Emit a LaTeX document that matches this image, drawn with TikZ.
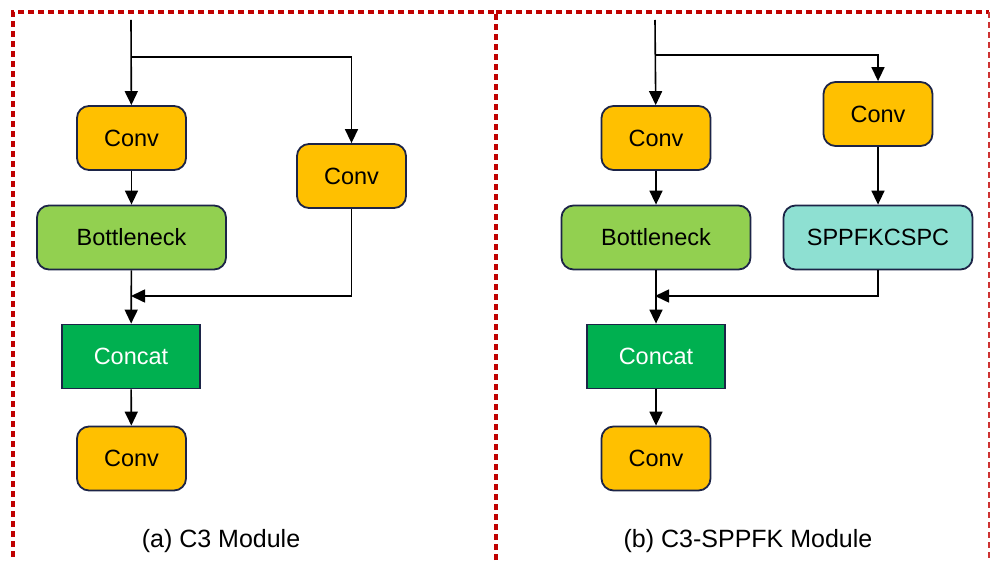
\documentclass[tikz,border=0pt]{standalone}
\usepackage{fontspec}
\setmainfont{Liberation Sans}
\usetikzlibrary{arrows,arrows.meta}

\definecolor{convcol}{HTML}{FFC000}
\definecolor{neckcol}{HTML}{92D050}
\definecolor{catcol}{HTML}{00B050}
\definecolor{sppfcol}{HTML}{8EE0D2}
\definecolor{edgecol}{HTML}{1C2447}
\definecolor{framecol}{HTML}{C00000}

\begin{document}
\begin{tikzpicture}[x=1pt,y=-1pt,->,>={Triangle[length=14pt,width=13pt]},line width=1.6pt,
  box/.style={draw=edgecol,line width=1.8pt,rounded corners=12pt,minimum height=64pt,
    inner sep=0pt,font=\fontsize{23.5}{27}\selectfont},
  conv node/.style={box,fill=convcol,minimum width=109pt},
  neck node/.style={box,fill=neckcol,minimum width=189pt},
  sppf node/.style={box,fill=sppfcol,minimum width=189pt},
  cat node/.style={box,fill=catcol,rounded corners=0pt,minimum width=138pt,text=white},
  frame/.style={-,draw=framecol,line width=3.5pt,dash pattern=on 6pt off 4pt},
  caption/.style={font=\fontsize{25}{30}\selectfont}]

  \clip (0,0) rectangle (990,561);

  % dashed panels
  \draw[frame] (496,580) -- (496,12) -- (13,12) -- (13,580);
  \draw[frame] (496,12) -- (989,12);
  \draw[frame,line width=1.8pt,draw=framecol!80] (989,12) -- (989,580);

  % (a) C3
  \node[conv node] (a1) at (131.5,138) {Conv};
  \node[neck node] (a2) at (131.5,237.5) {Bottleneck};
  \node[conv node] (a3) at (351.5,176) {Conv};
  \node[cat node]  (a4) at (131,356.5) {Concat};
  \node[conv node] (a5) at (131.5,458.5) {Conv};
  \coordinate (ain) at (131,20);
  \coordinate (asplit) at (131,57);
  \coordinate (ajoin) at (131,296);

  \draw (ain) -- (a1);
  \draw (asplit) -| (a3.north);
  \draw (a1) -- (a2);
  \draw (a3.south) |- (ajoin);
  \draw (a2) -- (a4);
  \draw (a4) -- (a5);

  % (b) C3-SPPFK
  \node[conv node] (b1) at (656,138) {Conv};
  \node[conv node] (b2) at (878,114) {Conv};
  \node[neck node] (b3) at (656,237.5) {Bottleneck};
  \node[sppf node] (b4) at (878,237.5) {SPPFKCSPC};
  \node[cat node]  (b5) at (656,356.5) {Concat};
  \node[conv node] (b6) at (656,458.5) {Conv};
  \coordinate (bin) at (655,20);
  \coordinate (bsplit) at (655,55);
  \coordinate (bjoin) at (655,296);

  \draw (bin) -- (b1);
  \draw (bsplit) -| (b2.north);
  \draw (b1) -- (b3);
  \draw (b2) -- (b4);
  \draw (b4.south) |- (bjoin);
  \draw (b3) -- (b5);
  \draw (b5) -- (b6);

  \node[caption] (capa) at (221,541) {(a) C3 Module};
  \node[caption] (capb) at (748,541) {(b) C3-SPPFK Module};
\end{tikzpicture}
\end{document}
